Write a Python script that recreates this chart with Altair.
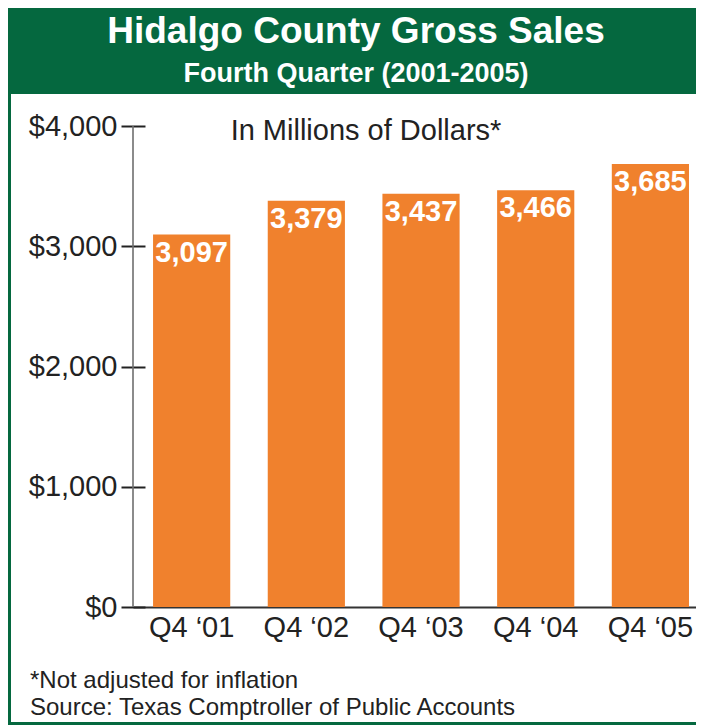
import altair as alt
import pandas as pd

# ---- data ----
quarters = ["Q4 \u201801", "Q4 \u201802", "Q4 \u201803", "Q4 \u201804", "Q4 \u201805"]
sales = [3097, 3379, 3437, 3466, 3685]
y_ticks = [0, 1000, 2000, 3000, 4000]

title_text = "Hidalgo County Gross Sales"
subtitle_text = "Fourth Quarter (2001-2005)"
unit_text = "In Millions of Dollars*"
note_text = "*Not adjusted for inflation"
source_text = "Source: Texas Comptroller of Public Accounts"

df = pd.DataFrame({"quarter": quarters, "sales": sales})

GREEN = "#05683F"
ORANGE = "#F0812D"
FONT = "Liberation Sans"
W, H = 563, 481
BOTTOM = 118
one = alt.Data(values=[{"a": 1}])

x_enc = alt.X(
    "quarter:N",
    sort=quarters,
    title=None,
    scale=alt.Scale(paddingInner=0.327, paddingOuter=0.118, align=0.741),
    axis=alt.Axis(
        labelAngle=0, labelFont=FONT, labelFontSize=29, labelColor="#222222",
        labelPadding=6, ticks=False, domainColor="#333333", domainWidth=1.8,
        grid=False,
    ),
)
y_enc = alt.Y(
    "sales:Q",
    title=None,
    scale=alt.Scale(domain=[0, 4000], nice=False),
    axis=alt.Axis(
        values=y_ticks, format="$,.0f", labelFont=FONT, labelFontSize=29,
        labelColor="#222222", offset=-12, tickSize=24, tickWidth=2,
        tickColor="#222222", labelPadding=4, domain=False, grid=False,
    ),
)

bars = alt.Chart(df).mark_bar(color=ORANGE).encode(x=x_enc, y=y_enc)

labels = alt.Chart(df).mark_text(
    color="white", font=FONT, fontWeight="bold", fontSize=29,
    baseline="top", dy=4,
).encode(
    x=alt.X("quarter:N", sort=quarters),
    y="sales:Q",
    text=alt.Text("sales:Q", format=",.0f"),
)

y_line = alt.Chart(one).mark_rule(color="#6e6e6e", strokeWidth=1.6).encode(
    x=alt.value(0), y=alt.value(0), y2=alt.value(H)
)

header = alt.Chart(one).mark_rect(color=GREEN).encode(
    x=alt.value(-125), x2=alt.value(W), y=alt.value(-118), y2=alt.value(-32)
)
left_border = alt.Chart(one).mark_rect(color=GREEN).encode(
    x=alt.value(-125), x2=alt.value(-122), y=alt.value(-118), y2=alt.value(H + BOTTOM)
)
bottom_border = alt.Chart(one).mark_rect(color=GREEN).encode(
    x=alt.value(-125), x2=alt.value(W), y=alt.value(H + BOTTOM - 3), y2=alt.value(H + BOTTOM)
)

title = alt.Chart(one).mark_text(
    text=title_text, font=FONT, fontWeight="bold", fontSize=37, color="white",
    align="center", baseline="alphabetic",
).encode(x=alt.value(223), y=alt.value(-83))
subtitle = alt.Chart(one).mark_text(
    text=subtitle_text, font=FONT, fontWeight="bold", fontSize=27, color="white",
    align="center", baseline="alphabetic",
).encode(x=alt.value(223), y=alt.value(-44))
unit = alt.Chart(one).mark_text(
    text=unit_text, font=FONT, fontSize=29, color="#222222",
    align="center", baseline="alphabetic",
).encode(x=alt.value(233), y=alt.value(14))
note = alt.Chart(one).mark_text(
    text=note_text, font=FONT, fontSize=24, color="#222222",
    align="left", baseline="alphabetic",
).encode(x=alt.value(-103), y=alt.value(H + BOTTOM - 37))
source = alt.Chart(one).mark_text(
    text=source_text, font=FONT, fontSize=24, color="#222222",
    align="left", baseline="alphabetic",
).encode(x=alt.value(-103), y=alt.value(H + BOTTOM - 10))

chart = alt.layer(
    header, left_border, bottom_border, bars, labels, y_line,
    title, subtitle, unit, note, source,
).properties(
    width=W, height=H,
    autosize=alt.AutoSizeParams(type="none"),
    padding={"left": 125, "top": 118, "right": 0, "bottom": BOTTOM},
    background="white",
).configure_view(stroke=None)

chart.save("out.html", embed_options={"renderer": "svg", "actions": False})
